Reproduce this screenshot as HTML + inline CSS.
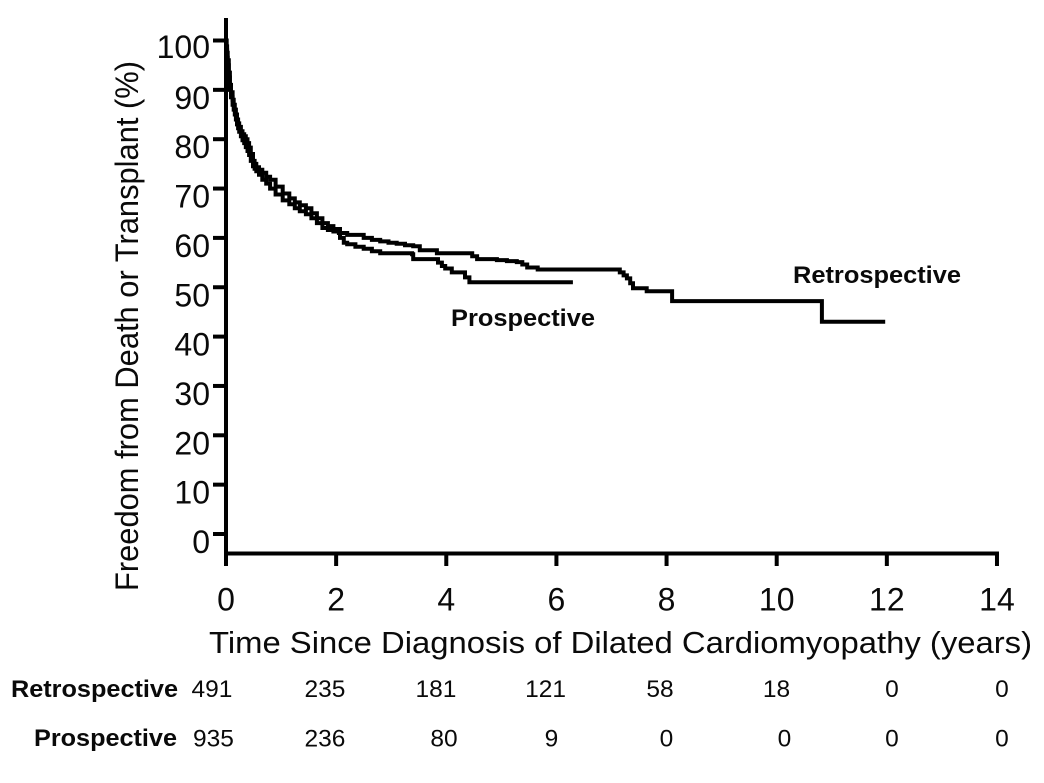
<!DOCTYPE html>
<html lang="en">
<head>
<meta charset="utf-8">
<title>Freedom from Death or Transplant</title>
<style>
html,body{margin:0;padding:0;background:#fff;}
svg{display:block;}
text{font-family:"Liberation Sans",Arial,sans-serif;fill:#0a0a0a;}
</style>
</head>
<body>
<svg id="chart" xmlns="http://www.w3.org/2000/svg" width="1044" height="783" viewBox="0 0 1044 783">
  <rect width="1044" height="783" fill="#fff"/>
  <g id="curves"></g>
  <g id="axes"></g>
  <text transform="translate(138,591) rotate(-90)" font-size="32" textLength="530" lengthAdjust="spacingAndGlyphs">Freedom from Death or Transplant (%)</text>
  <text x="209" y="653" font-size="31" textLength="823" lengthAdjust="spacingAndGlyphs">Time Since Diagnosis of Dilated Cardiomyopathy (years)</text>
  <text x="793" y="283" font-size="24" font-weight="bold" textLength="168" lengthAdjust="spacingAndGlyphs">Retrospective</text>
  <text x="451" y="326" font-size="24" font-weight="bold" textLength="144" lengthAdjust="spacingAndGlyphs">Prospective</text>
  <text x="11" y="697" font-size="24" font-weight="bold" textLength="167" lengthAdjust="spacingAndGlyphs">Retrospective</text>
  <text x="34" y="746" font-size="24" font-weight="bold" textLength="143" lengthAdjust="spacingAndGlyphs">Prospective</text>
  <g id="risk-table"></g>
</svg>
<script>
var xTicks = [0, 2, 4, 6, 8, 10, 12, 14];
var yTicks = [0, 10, 20, 30, 40, 50, 60, 70, 80, 90, 100];
var retroTimes = [0, 0.01, 0.02, 0.03, 0.05, 0.07, 0.09, 0.12, 0.14, 0.16, 0.18, 0.2, 0.22, 0.24, 0.27, 0.3, 0.33, 0.36, 0.39, 0.42, 0.45, 0.49, 0.52, 0.55, 0.6, 0.66, 0.73, 0.8, 0.9, 1.03, 1.15, 1.25, 1.34, 1.45, 1.55, 1.65, 1.75, 1.85, 1.95, 2.05, 2.2, 2.5, 2.65, 2.8, 2.95, 3.1, 3.25, 3.4, 3.52, 3.83, 4.38, 4.47, 4.56, 4.92, 5.1, 5.28, 5.38, 5.47, 5.66, 6.92, 7.15, 7.22, 7.28, 7.34, 7.39, 7.64, 8.1, 10.82, 11.97];
var retroValues = [100, 98, 96.5, 95, 92.5, 90, 88.5, 87, 86, 85, 84, 83, 82.2, 81.5, 80.6, 79.8, 79.2, 78.4, 77.6, 76.8, 75.6, 74.5, 74, 73.5, 72.8, 71.8, 71, 70, 68.8, 67.6, 66.8, 66, 65.4, 64.8, 64, 63, 62, 61.6, 61.3, 61, 60.6, 60, 59.6, 59.3, 59, 58.8, 58.5, 58.3, 57.5, 56.9, 56.9, 56.3, 55.7, 55.5, 55.3, 55.1, 54.6, 54, 53.6, 53.6, 53, 52.4, 51.8, 50.8, 49.8, 49.2, 47.2, 43, 43];
var prospTimes = [0, 0.01, 0.02, 0.03, 0.05, 0.07, 0.09, 0.12, 0.14, 0.16, 0.18, 0.2, 0.22, 0.24, 0.27, 0.3, 0.33, 0.36, 0.39, 0.42, 0.45, 0.49, 0.52, 0.55, 0.6, 0.66, 0.73, 0.8, 0.9, 1.03, 1.15, 1.25, 1.34, 1.45, 1.55, 1.65, 1.75, 1.85, 1.95, 2.07, 2.14, 2.2, 2.35, 2.5, 2.65, 2.8, 3.38, 3.4, 3.85, 3.92, 3.98, 4.1, 4.34, 4.42, 6.3];
var prospValues = [100, 98.8, 97.5, 96, 93.5, 91, 89.5, 88, 87, 86, 85, 84, 83.2, 82.5, 81.6, 81, 80.6, 80, 79.2, 78.3, 77, 75.6, 75, 74.3, 73.8, 73.2, 72.4, 71.8, 70.4, 69, 68, 67.2, 66.6, 66, 65, 64, 63, 62.4, 61.8, 60, 59, 58.7, 58.2, 57.8, 57.3, 56.9, 56.7, 55.7, 55, 54.3, 53.8, 53, 52, 51, 51];
var riskRetrospective = ["491", "235", "181", "121", "58", "18", "0", "0"];
var riskProspective = ["935", "236", "80", "9", "0", "0", "0", "0"];

function xScale(t) { return 226 + t * 55.07; }
function yScale(v) { return 534 - v * 4.935; }
function retroColumnX(i) { return [212, 325, 436, 545.6, 660, 776.5, 892, 1002][i]; }
function prospColumnX(i) { return [213.5, 325, 444, 551.5, 666.5, 784.5, 892, 1002][i]; }

var NS = 'http://www.w3.org/2000/svg';
var axes = document.getElementById('axes');
var curves = document.getElementById('curves');
var table = document.getElementById('risk-table');

function stepPath(times, values) {
  var d = 'M' + xScale(times[0]).toFixed(1) + ' ' + yScale(values[0]).toFixed(1);
  for (var i = 1; i < times.length; i++) {
    d += 'H' + xScale(times[i]).toFixed(1) + 'V' + yScale(values[i]).toFixed(1);
  }
  return d;
}

var retroPath = document.createElementNS(NS, 'path');


retroPath.setAttribute('d', stepPath(retroTimes, retroValues));
retroPath.setAttribute('fill', 'none');
retroPath.setAttribute('stroke', '#000');
retroPath.setAttribute('stroke-width', '4');
curves.appendChild(retroPath);

var prospPath = document.createElementNS(NS, 'path');


prospPath.setAttribute('d', stepPath(prospTimes, prospValues));
prospPath.setAttribute('fill', 'none');
prospPath.setAttribute('stroke', '#000');
prospPath.setAttribute('stroke-width', '4');
curves.appendChild(prospPath);

var yAxisLine = document.createElementNS(NS, 'line');


yAxisLine.setAttribute('x1', 226);
yAxisLine.setAttribute('x2', 226);
yAxisLine.setAttribute('y1', 18);
yAxisLine.setAttribute('y2', 566);
yAxisLine.setAttribute('stroke', '#000');
yAxisLine.setAttribute('stroke-width', '4');
axes.appendChild(yAxisLine);

var xAxisLine = document.createElementNS(NS, 'line');


xAxisLine.setAttribute('x1', 224);
xAxisLine.setAttribute('x2', xScale(14) + 2);
xAxisLine.setAttribute('y1', 553.5);
xAxisLine.setAttribute('y2', 553.5);
xAxisLine.setAttribute('stroke', '#000');
xAxisLine.setAttribute('stroke-width', '4');
axes.appendChild(xAxisLine);

yTicks.forEach(function (v) {
  var tick = document.createElementNS(NS, 'line');
  
  
  tick.setAttribute('x1', 213);
  tick.setAttribute('x2', 226);
  tick.setAttribute('y1', yScale(v));
  tick.setAttribute('y2', yScale(v));
  tick.setAttribute('stroke', '#000');
  tick.setAttribute('stroke-width', '4');
  axes.appendChild(tick);

  var label = document.createElementNS(NS, 'text');
  
  
  label.setAttribute('x', 210);
  label.setAttribute('y', yScale(v) + (v === 100 ? 17.5 : 19));
  label.setAttribute('font-size', '32');
  label.setAttribute('text-anchor', 'end');
  label.textContent = String(v);
  axes.appendChild(label);
});

xTicks.forEach(function (t) {
  var tick = document.createElementNS(NS, 'line');
  
  
  tick.setAttribute('x1', xScale(t));
  tick.setAttribute('x2', xScale(t));
  tick.setAttribute('y1', 553);
  tick.setAttribute('y2', 566);
  tick.setAttribute('stroke', '#000');
  tick.setAttribute('stroke-width', '4');
  axes.appendChild(tick);

  var label = document.createElementNS(NS, 'text');
  
  
  label.setAttribute('x', xScale(t));
  label.setAttribute('y', 610.5);
  label.setAttribute('font-size', '32');
  label.setAttribute('text-anchor', 'middle');
  label.textContent = String(t);
  axes.appendChild(label);
});

riskRetrospective.forEach(function (n, i) {
  var cell = document.createElementNS(NS, 'text');
  
  
  cell.setAttribute('x', retroColumnX(i));
  cell.setAttribute('y', 697);
  cell.setAttribute('font-size', '24.5');
  cell.setAttribute('text-anchor', 'middle');
  cell.textContent = n;
  table.appendChild(cell);
});

riskProspective.forEach(function (n, i) {
  var cell = document.createElementNS(NS, 'text');
  
  
  cell.setAttribute('x', prospColumnX(i));
  cell.setAttribute('y', 746.5);
  cell.setAttribute('font-size', '24.5');
  cell.setAttribute('text-anchor', 'middle');
  cell.textContent = n;
  table.appendChild(cell);
});
</script>
</body>
</html>
